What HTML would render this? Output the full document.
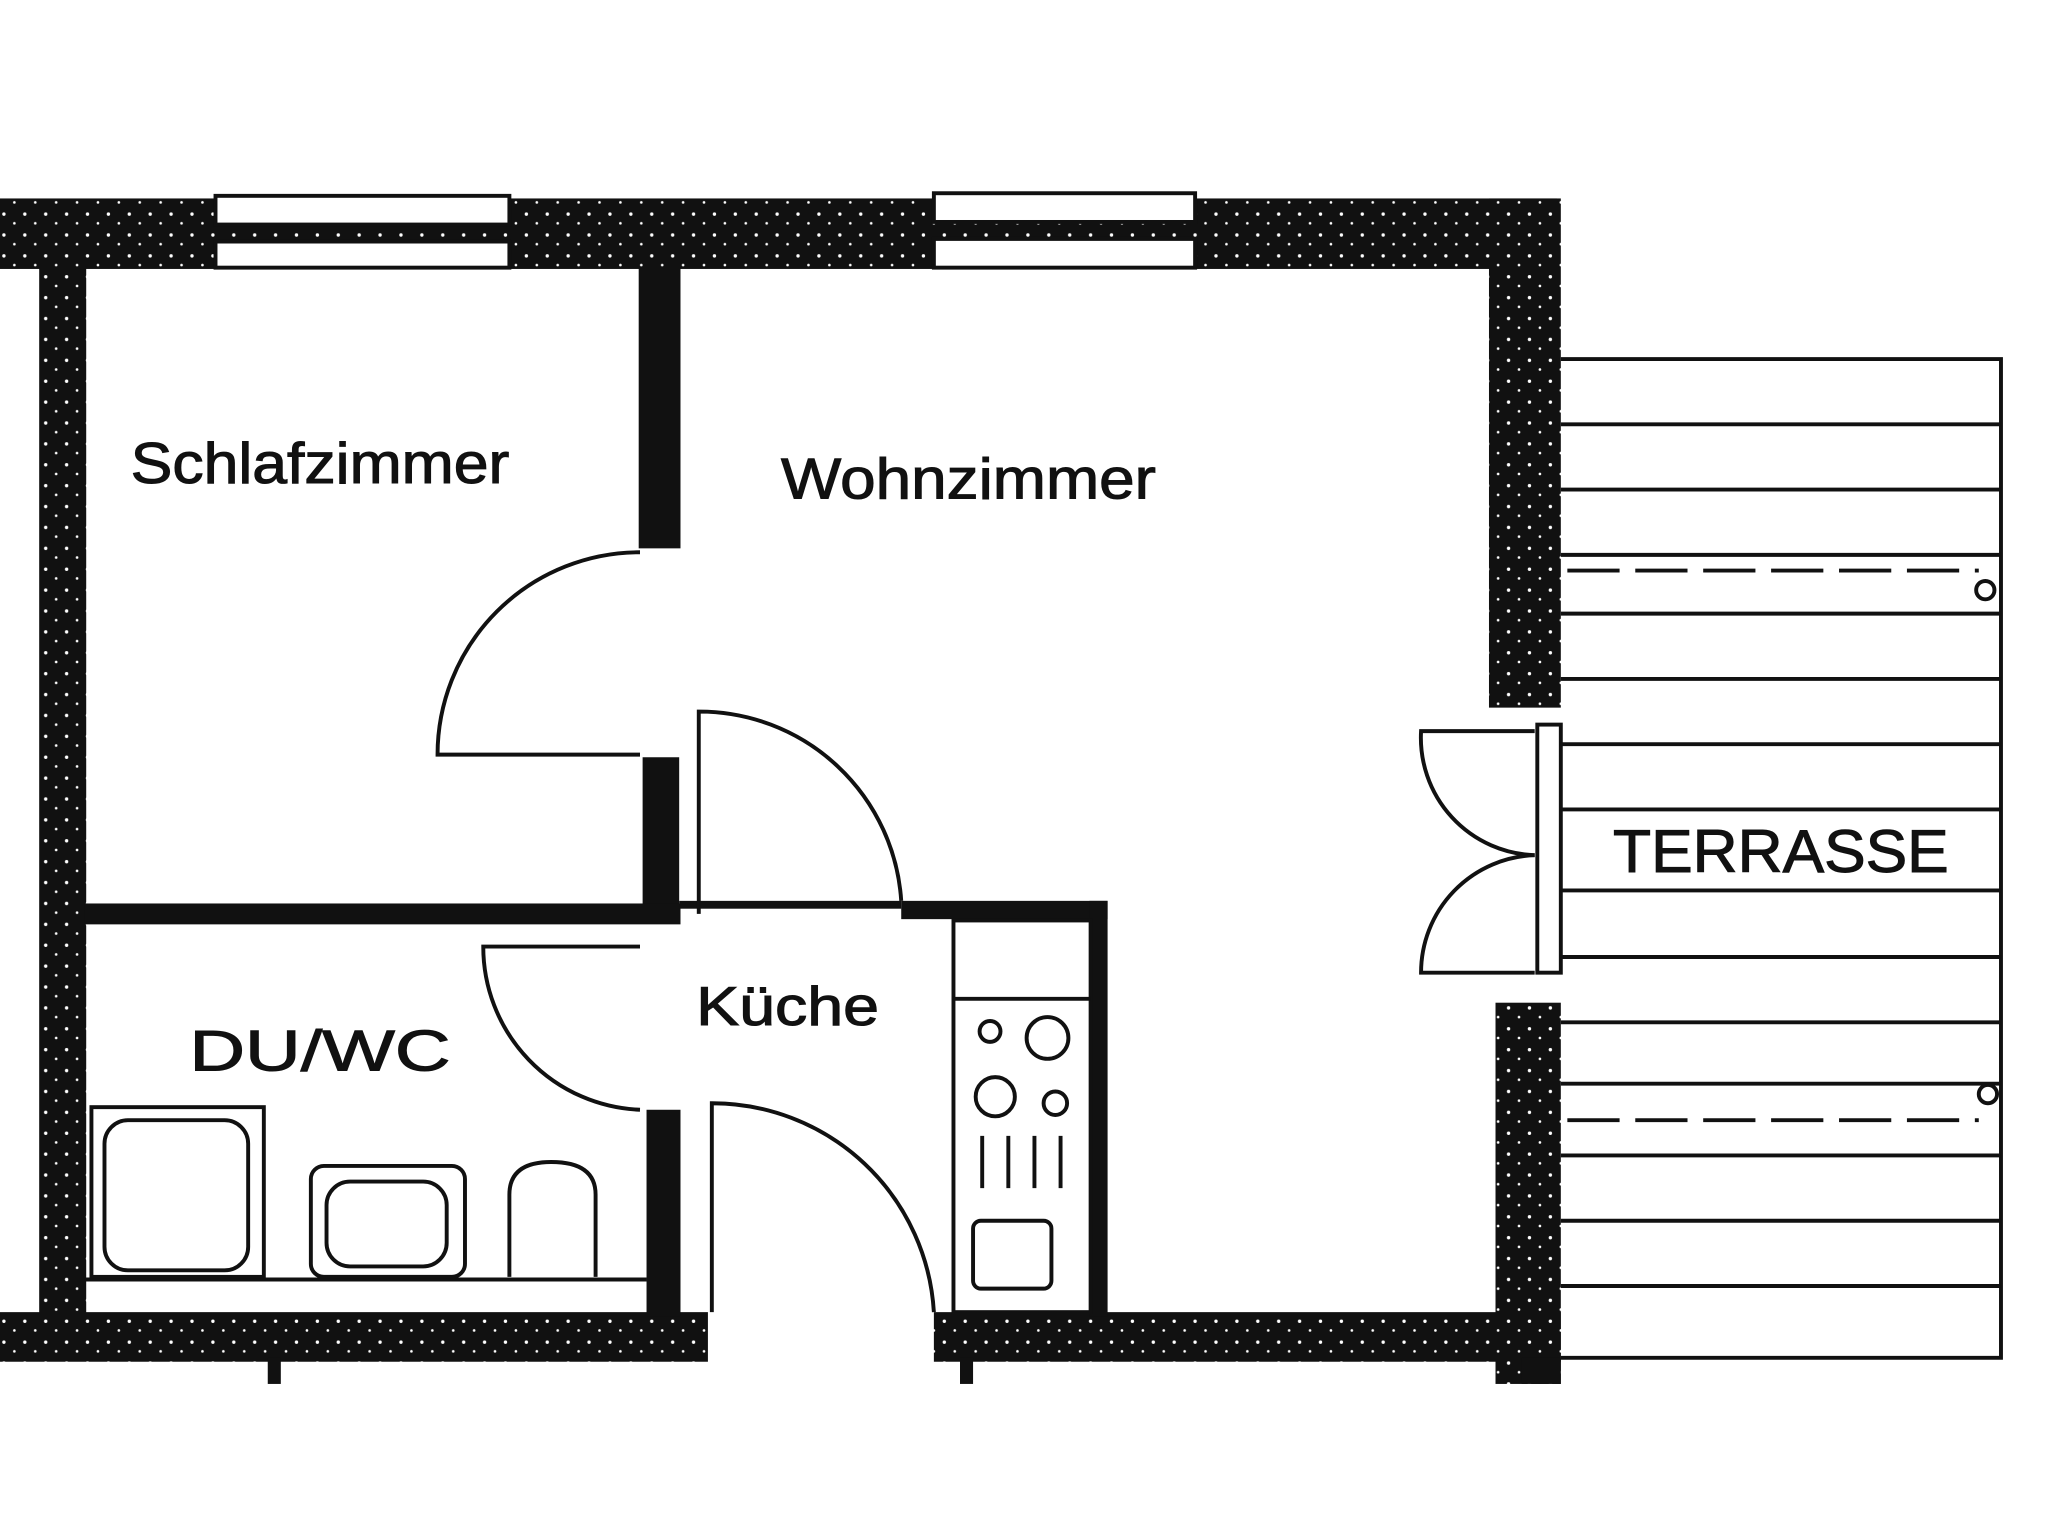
<!DOCTYPE html>
<html><head><meta charset="utf-8"><style>
html,body{margin:0;padding:0;background:#fff}
svg{display:block}
text{font-family:"Liberation Sans",sans-serif;fill:#111}
</style></head><body>
<svg width="2048" height="1538" viewBox="0 0 1568 1178" preserveAspectRatio="none" xmlns="http://www.w3.org/2000/svg">
<defs>
<pattern id="sp" width="16" height="16" patternUnits="userSpaceOnUse">
<rect width="16" height="16" fill="#111"/>
<circle cx="3" cy="4" r="1.3" fill="#fff"/><circle cx="11" cy="11" r="1.0" fill="#fff"/>
</pattern>
</defs>
<g fill="url(#sp)">
<rect x="0" y="152" width="1192" height="54"/>
<rect x="1140" y="152" width="55" height="390"/>
<rect x="1145" y="768" width="50" height="292"/>
<rect x="30" y="200" width="36" height="810"/>
<rect x="0" y="1005" width="542" height="38"/>
<rect x="715" y="1005" width="480" height="38"/>
</g>
<g fill="#111">
<rect x="489" y="205" width="32" height="215"/>
<rect x="492" y="580" width="28" height="122"/>
<rect x="495" y="850" width="26" height="158"/>
<rect x="65" y="692" width="456" height="16"/>
<rect x="520" y="690" width="170" height="6"/>
<rect x="690" y="690" width="158" height="14"/>
<rect x="834" y="690" width="14" height="318"/>
<rect x="205" y="1040" width="10" height="20"/>
<rect x="735" y="1040" width="10" height="20"/>
<rect x="1165" y="1040" width="30" height="20"/>
</g>
<g fill="#fff" stroke="#111" stroke-width="3">
<rect x="165" y="150" width="225" height="22"/><rect x="165" y="185" width="225" height="20"/>
<rect x="715" y="148" width="200" height="22"/><rect x="715" y="183" width="200" height="22"/>
</g>
<g fill="none" stroke="#111" stroke-width="3">
<path d="M490 578 L335 578 A155 155 0 0 1 490 423"/>
<path d="M535 700 L535 545 A155 155 0 0 1 690 690"/>
<path d="M490 725 L370 725 A125 125 0 0 0 490 850"/>
<path d="M545 1005 L545 845 A170 170 0 0 1 715 1005"/>
<path d="M1175 560 L1088 560 A90 90 0 0 0 1175 655"/>
<path d="M1175 745 L1088 745 A90 90 0 0 1 1175 655"/>
<rect x="1177" y="555" width="18" height="190"/>
<path d="M1195 275 H1532 V1040 H1195"/>
<path d="M1195 325H1532M1195 375H1532M1195 425H1532M1195 470H1532M1195 520H1532M1195 570H1532M1195 620H1532M1195 682H1532M1195 733H1532M1195 783H1532M1195 830H1532M1195 885H1532M1195 935H1532M1195 985H1532"/>
<path d="M1200 437 H1515 M1200 858 H1515" stroke-dasharray="40 12"/>
<circle cx="1520" cy="452" r="7"/><circle cx="1522" cy="838" r="7"/>
<rect x="730" y="705" width="105" height="300"/>
<path d="M730 765 H835"/>
<circle cx="758" cy="790" r="8"/><circle cx="802" cy="795" r="16"/>
<circle cx="762" cy="840" r="15"/><circle cx="808" cy="845" r="9"/>
<path d="M752 870V910M772 870V910M792 870V910M812 870V910"/>
<rect x="745" y="935" width="60" height="52" rx="6"/>
<path d="M65 980 H495"/>
<rect x="70" y="848" width="132" height="130"/>
<rect x="80" y="858" width="110" height="115" rx="18"/>
<rect x="238" y="893" width="118" height="85" rx="10"/>
<rect x="250" y="905" width="92" height="65" rx="18"/>
<path d="M390 978 V915 Q390 890 422 890 Q456 890 456 915 V978"/>
</g>
<g stroke="#111" stroke-width="0.8">
<text x="100" y="370" font-size="44" textLength="290" lengthAdjust="spacingAndGlyphs">Schlafzimmer</text>
<text x="598" y="382" font-size="44" textLength="287" lengthAdjust="spacingAndGlyphs">Wohnzimmer</text>
<text x="533" y="785" font-size="42" textLength="140" lengthAdjust="spacingAndGlyphs">Küche</text>
<text x="145" y="820" font-size="44" textLength="200" lengthAdjust="spacingAndGlyphs">DU/WC</text>
<text x="1235" y="668" font-size="46" textLength="257" lengthAdjust="spacingAndGlyphs">TERRASSE</text>
</g>
</svg>
</body></html>
